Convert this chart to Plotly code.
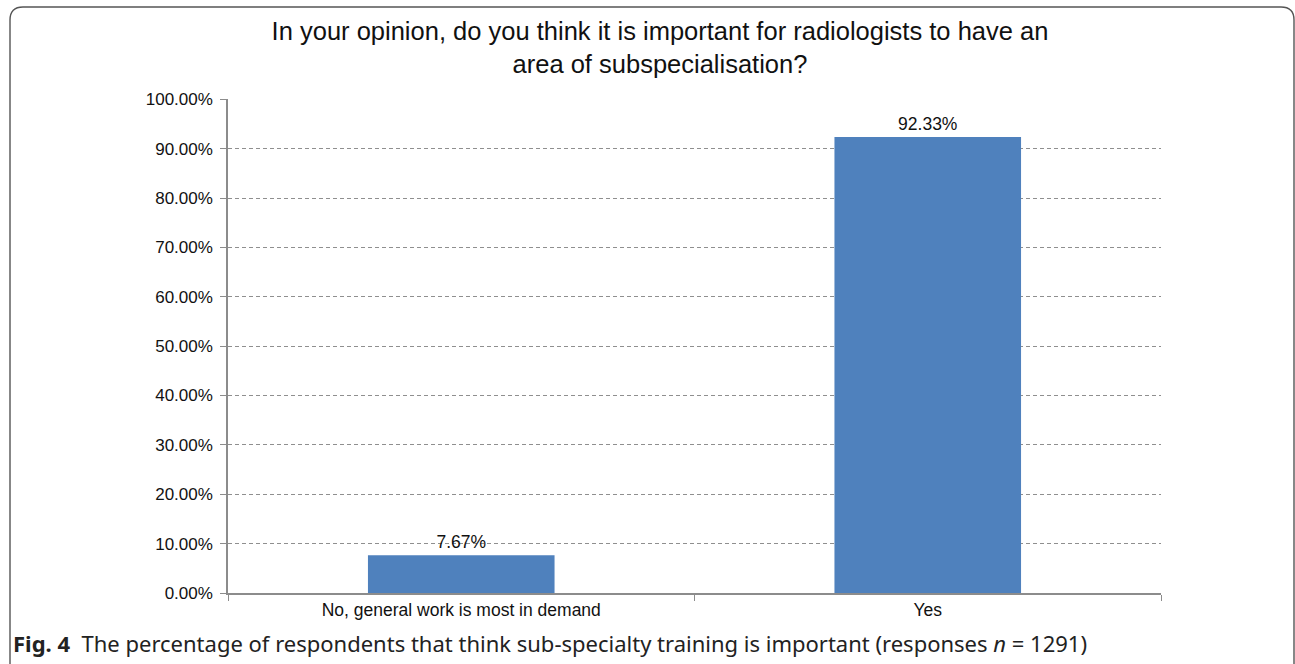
import plotly.graph_objects as go

categories = ["No, general work is most in demand", "Yes"]
values = [7.67, 92.33]
tick_vals = [0, 10, 20, 30, 40, 50, 60, 70, 80, 90, 100]
tick_text = [f"{v:.2f}%" for v in tick_vals]

W, H = 1295, 664
L, R, T, B = 228, 134, 99, 71
PW, PH = W - L - R, H - T - B
ARIAL = "Liberation Sans, Arial"


def px(x):
    return (x - L) / PW


def py(y):
    return (H - B - y) / PH


fig = go.Figure()
fig.add_trace(go.Bar(
    x=categories,
    y=values,
    marker=dict(color="#4F81BD", line=dict(width=0)),
    text=[f"{v:.2f}%" for v in values],
    textposition="outside",
    textfont=dict(family=ARIAL, size=17.5, color="#111"),
    cliponaxis=False,
))

# rounded frame around the figure
frame = (
    f"M {px(10)} {py(664)} L {px(10)} {py(20)} "
    f"Q {px(10)} {py(7)} {px(23)} {py(7)} "
    f"L {px(1281)} {py(7)} "
    f"Q {px(1294)} {py(7)} {px(1294)} {py(20)} "
    f"L {px(1294)} {py(664)}"
)

fig.update_layout(
    width=W, height=H,
    margin=dict(l=L, r=R, t=T, b=B),
    paper_bgcolor="white", plot_bgcolor="white",
    bargap=0.6,
    showlegend=False,
    title=dict(
        text="In your opinion, do you think it is important for radiologists to have an<br>area of subspecialisation?",
        x=px(660), xref="paper", xanchor="center",
        y=1 - 40 / H, yanchor="middle",
        font=dict(family=ARIAL, size=25.5, color="#111"),
    ),
    xaxis=dict(
        showgrid=False, showline=True, linecolor="#8c8c8c", linewidth=1.5,
        ticks="outside", tickson="boundaries", ticklen=6, tickcolor="#8c8c8c",
        tickfont=dict(family=ARIAL, size=17.5, color="#111"),
    ),
    yaxis=dict(
        range=[0, 100.05], tickvals=tick_vals, ticktext=tick_text,
        showgrid=True, gridcolor="#8f8f8f", griddash="4px,3px", gridwidth=1.2,
        showline=True, linecolor="#8c8c8c", linewidth=1.5,
        ticks="outside", ticklen=6, tickcolor="#8c8c8c",
        ticklabelstandoff=4,
        tickfont=dict(family=ARIAL, size=17, color="#111"),
        zeroline=False,
    ),
    shapes=[dict(type="path", path=frame, xref="paper", yref="paper",
                 line=dict(color="#555", width=1.4))],
    annotations=[dict(
        text="<b>Fig. 4</b>  The percentage of respondents that think sub-specialty training is important (responses <i>n</i> = 1291)",
        x=px(11), y=py(643), xref="paper", yref="paper",
        xanchor="left", yanchor="middle", showarrow=False,
        font=dict(family="Noto Sans", size=22, color="#222"),
    )],
)

fig.write_html("out.html")
